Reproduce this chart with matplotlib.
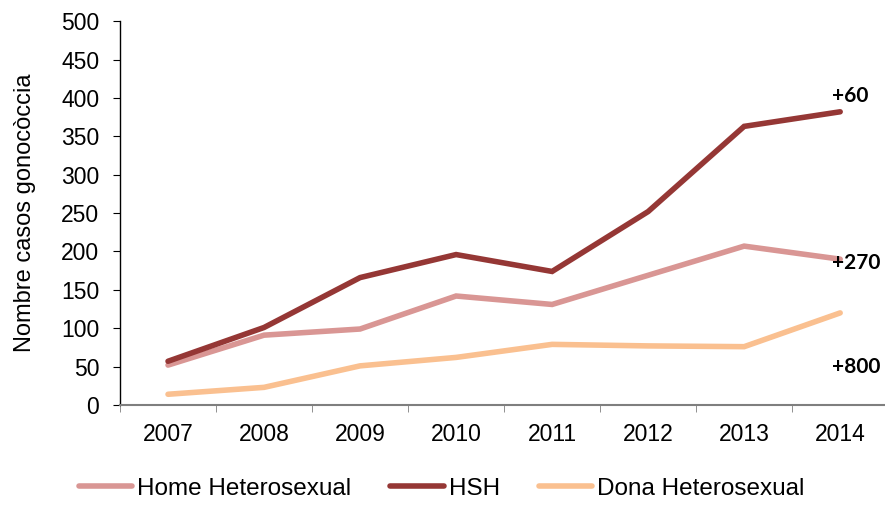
import matplotlib.pyplot as plt
import numpy as np

# Dades llegides del gràfic
years = ['2007', '2008', '2009', '2010', '2011', '2012', '2013', '2014']
home_het = [52, 91, 99, 142, 131, 169, 207, 190]
hsh = [57, 101, 166, 196, 174, 252, 363, 382]
dona_het = [14, 23, 51, 62, 79, 77, 76, 120]
labels = ['Home Heterosexual', 'HSH', 'Dona Heterosexual']
colors = ['#D99694', '#953735', '#FAC090']
increments = ['+270', '+60', '+800']
increment_y = [185, 402, 50]

plt.rcParams['font.family'] = ['Liberation Sans', 'DejaVu Sans']

fig = plt.figure(figsize=(8.85, 5.05), dpi=100)
ax = fig.add_axes([0.1356, 0.198, 0.868, 0.760])

x = np.arange(len(years))
for series, lab, col in zip([home_het, hsh, dona_het], labels, colors):
    ax.plot(x, series, color=col, lw=4.0, label=lab, solid_capstyle='round',
            solid_joinstyle='miter')

# Anotacions a la dreta
for txt, yv in zip(increments, increment_y):
    ax.text(x[-1] - 0.09, yv, txt, fontsize=15, fontweight='bold',
            family=['Lato', 'DejaVu Sans'], ha='left', va='center')

ax.set_xlim(-0.5, len(years) - 0.5)
ax.set_ylim(0, 500)
ax.set_yticks(np.arange(0, 501, 50))
ax.set_xticks(x)
ax.set_xticklabels(years)
ax.set_xticks(np.arange(-0.5, len(years), 1), minor=True)
ax.tick_params(axis='x', which='major', length=0, pad=13, labelsize=16.5)
ax.tick_params(axis='x', which='minor', length=5, direction='out', color='#7f7f7f')
ax.tick_params(axis='y', length=5, direction='out', color='black', labelsize=16.5, pad=10)

for s in ['top', 'right']:
    ax.spines[s].set_visible(False)
ax.spines['left'].set_color('black')
ax.spines['left'].set_linewidth(1.0)
ax.spines['bottom'].set_color('#7f7f7f')
ax.spines['bottom'].set_linewidth(1.5)

ax.set_ylabel('Nombre casos gonocòccia', fontsize=17, labelpad=18)

leg = fig.legend(loc='center', bbox_to_anchor=(0.499, 0.032), ncol=3, frameon=False,
                 fontsize=17.5, handlelength=2.2, handletextpad=0.2, columnspacing=1.6)

fig.savefig('out.png', dpi=100)
